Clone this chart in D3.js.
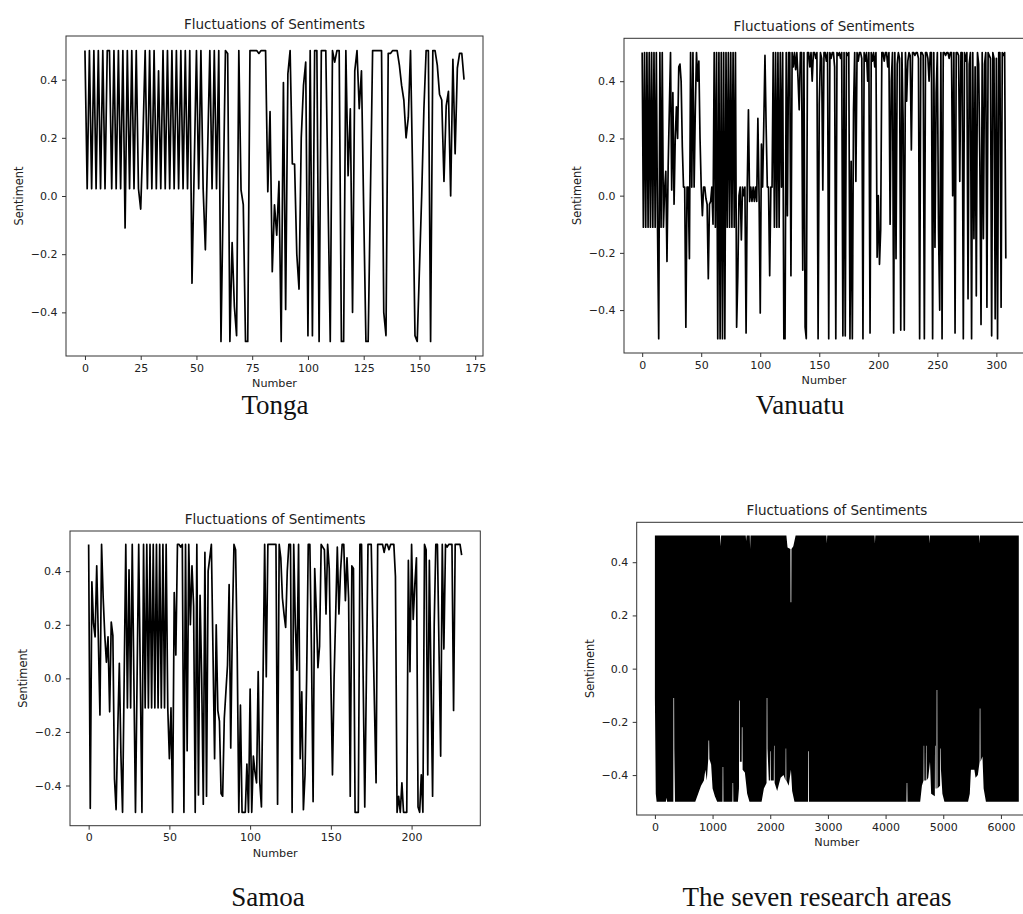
<!DOCTYPE html>
<html>
<head>
<meta charset="utf-8">
<script src="https://cdn.jsdelivr.net/npm/d3@7"></script>
<style>
  body { margin: 0; background: #fff; }
  svg { display: block; }
</style>
</head>
<body>
<svg id="chart" width="1023" height="914"></svg>
<script>
// values (index = Number)
const tongaValues = [
  0.5, 0.025, 0.5, 0.025, 0.5, 0.025, 0.5, 0.025, 0.5, 0.025,
  0.5, 0.5, 0.025, 0.5, 0.025, 0.5, 0.025, 0.5, -0.11, 0.5,
  0.025, 0.5, 0.025, 0.5, 0.025, -0.045, 0.2, 0.5, 0.025, 0.5,
  0.025, 0.5, 0.025, 0.43, 0.025, 0.5, 0.025, 0.5, 0.025, 0.5,
  0.025, 0.5, 0.025, 0.5, 0.025, 0.5, 0.025, 0.5, -0.3, 0.1,
  0.5, 0.025, 0.5, 0.025, -0.185, 0.15, 0.5, 0.025, 0.5, 0.025,
  0.5, -0.5, 0.0, 0.5, 0.49, -0.5, -0.16, -0.38, -0.48, 0.5,
  0.02, -0.03, -0.5, -0.5, 0.5, 0.5, 0.5, 0.5, 0.49, 0.5,
  0.5, 0.5, 0.015, 0.29, -0.26, -0.03, -0.135, 0.05, -0.5, 0.39,
  -0.39, 0.42, 0.5, 0.11, 0.11, -0.2, -0.32, 0.2, 0.38, 0.46,
  -0.48, 0.5, -0.48, 0.5, 0.5, -0.5, 0.5, 0.5, 0.5, 0.0,
  -0.5, 0.5, 0.46, 0.5, 0.5, -0.5, -0.5, 0.5, 0.07, 0.3,
  -0.4, 0.43, 0.5, 0.3, 0.43, -0.05, -0.5, -0.5, 0.0, 0.5,
  0.5, 0.5, 0.5, 0.5, -0.4, -0.48, 0.49, 0.49, 0.5, 0.5,
  0.5, 0.45, 0.38, 0.33, 0.2, 0.27, 0.5, 0.05, -0.48, -0.5,
  -0.25, 0.0, 0.3, 0.5, 0.5, -0.5, 0.5, 0.5, 0.45, 0.35,
  0.33, 0.05, 0.31, 0.36, 0.0, 0.47, 0.145, 0.44, 0.49, 0.49,
  0.40
];

const vanuatuValues = [
  0.5, -0.11, 0.5, -0.11, 0.5, -0.11, 0.5, -0.11, 0.5, -0.11,
  0.5, -0.11, 0.5, -0.11, -0.5, 0.5, -0.11, 0.5, -0.11, 0.02,
  0.085, -0.23, 0.1, 0.3, 0.5, 0.02, 0.36, -0.03, 0.2, 0.31,
  0.2, 0.45, 0.46, 0.4, 0.17, 0.03, 0.03, -0.46, 0.03, 0.03,
  -0.22, 0.5, 0.03, 0.5, 0.03, 0.3, 0.5, 0.4, 0.47, 0.2,
  0.03, -0.07, 0.03, 0.03, -0.01, -0.03, -0.29, -0.03, -0.02, 0.03,
  -0.1, 0.5, -0.11, 0.5, -0.5, 0.5, -0.5, 0.5, -0.5, 0.5,
  -0.5, 0.5, -0.11, 0.5, -0.11, 0.5, -0.11, 0.5, -0.11, 0.5,
  -0.46, -0.28, 0.0, 0.03, -0.155, 0.03, 0.0, 0.03, -0.48, 0.03,
  0.3, -0.02, 0.03, -0.02, 0.03, -0.02, 0.03, -0.02, 0.27, 0.0,
  -0.41, 0.18, 0.03, 0.25, 0.49, 0.24, 0.03, 0.03, -0.28, 0.03,
  0.03, 0.5, -0.11, 0.5, -0.11, 0.5, -0.11, 0.5, 0.03, 0.5,
  -0.5, -0.5, 0.5, -0.07, 0.5, 0.5, -0.28, 0.5, 0.45, 0.5,
  0.44, 0.5, 0.41, 0.3, 0.5, 0.5, -0.26, 0.5, -0.46, -0.5,
  0.5, 0.5, 0.45, 0.5, 0.4, 0.5, 0.5, 0.48, 0.5, -0.5,
  0.32, 0.5, 0.48, 0.02, 0.5, 0.5, 0.47, 0.5, -0.5, 0.5,
  0.48, 0.5, 0.5, 0.45, -0.5, 0.5, 0.49, 0.5, 0.48, 0.5,
  -0.49, 0.5, -0.49, 0.5, 0.49, 0.5, -0.5, 0.12, -0.5, 0.3,
  0.5, 0.05, 0.5, 0.47, 0.5, 0.5, 0.48, -0.5, 0.5, 0.47,
  0.5, 0.4, 0.5, -0.48, 0.5, 0.47, 0.5, 0.45, 0.5, -0.215,
  0.0, -0.24, -0.12, 0.5, 0.5, 0.47, 0.5, 0.5, 0.45, 0.5,
  -0.1, 0.4, 0.5, -0.48, 0.5, -0.22, 0.46, 0.5, 0.48, -0.47,
  0.5, 0.27, -0.47, 0.5, 0.33, 0.47, 0.5, 0.49, 0.16, 0.5,
  0.5, 0.49, 0.5, 0.5, 0.48, -0.5, 0.5, 0.5, 0.49, -0.5,
  0.5, 0.5, 0.48, 0.4, 0.5, 0.5, -0.5, 0.5, -0.18, 0.36,
  0.5, -0.12, -0.4, 0.5, -0.5, 0.5, 0.5, 0.49, 0.5, 0.5,
  0.48, 0.5, 0.5, 0.0, 0.5, -0.48, 0.5, 0.5, 0.49, 0.05,
  0.5, 0.5, -0.5, 0.5, 0.47, 0.5, -0.36, 0.46, 0.5, -0.5,
  0.5, -0.15, 0.45, -0.35, 0.5, 0.46, 0.12, -0.45, 0.5, -0.15,
  0.46, 0.5, -0.39, 0.5, 0.49, 0.48, -0.49, 0.5, 0.48, -0.43,
  0.48, -0.5, 0.5, 0.5, -0.39, 0.5, 0.49, 0.5, -0.22
];

const samoaValues = [
  0.5, -0.485, 0.36, 0.205, 0.155, 0.42, 0.15, -0.137, 0.5, 0.3,
  0.16, 0.06, 0.155, -0.125, 0.21, 0.16, -0.375, -0.49, -0.2, 0.056,
  -0.29, -0.5, 0.0, 0.5, -0.11, 0.405, -0.11, 0.5, 0.0, -0.5,
  0.0, 0.5, 0.0, -0.5, 0.5, -0.11, 0.5, -0.11, 0.5, -0.11,
  0.5, -0.11, 0.5, -0.11, 0.5, -0.11, 0.5, -0.11, 0.5, -0.11,
  -0.3, -0.11, -0.5, 0.32, 0.087, 0.5, 0.5, 0.49, 0.5, -0.5,
  0.5, -0.27, 0.5, 0.2, 0.42, 0.27, -0.5, 0.5, -0.435, 0.31,
  0.0, -0.47, 0.47, -0.44, 0.4, 0.45, 0.5, 0.1, -0.3, 0.2,
  -0.12, -0.16, -0.43, -0.44, -0.15, -0.05, 0.05, 0.35, -0.26, 0.2,
  0.5, 0.48, 0.1, -0.5, -0.1, -0.5, -0.5, -0.5, -0.32, -0.5,
  -0.04, -0.5, -0.29, -0.35, -0.39, 0.025, -0.39, -0.48, 0.0, 0.5,
  0.006, 0.5, 0.5, 0.5, 0.5, 0.5, 0.5, -0.47, 0.5, 0.45,
  0.3, 0.24, 0.19, 0.4, 0.5, 0.5, -0.5, 0.5, 0.2, 0.03,
  0.5, -0.3, -0.05, -0.49, -0.36, 0.0, 0.5, 0.5, 0.1, -0.46,
  0.41, 0.25, 0.04, 0.12, 0.5, 0.49, 0.48, 0.24, 0.5, 0.41,
  0.0, -0.36, 0.0, 0.24, 0.49, 0.24, 0.4, 0.5, 0.5, 0.29,
  0.45, 0.3, -0.44, 0.42, 0.41, -0.5, -0.5, -0.5, 0.5, 0.5,
  0.0, -0.48, 0.0, 0.5, 0.5, 0.5, 0.2, -0.1, -0.39, 0.5,
  0.5, 0.5, 0.5, 0.47, 0.5, 0.5, 0.48, 0.5, 0.5, 0.5,
  0.38, -0.5, -0.44, -0.5, -0.39, -0.5, -0.5, -0.5, 0.44, 0.025,
  0.5, 0.22, 0.35, 0.45, -0.48, -0.5, -0.36, -0.5, 0.5, 0.48,
  -0.36, 0.44, 0.0, -0.44, 0.2, 0.5, 0.5, 0.1, -0.29, 0.5,
  0.11, 0.5, 0.49, 0.5, 0.5, 0.5, -0.12, 0.5, 0.5, 0.5,
  0.5, 0.46
];

// all seven areas: ~6300 points, too dense to separate; read as the upper and
// lower edge of the black band, [Number, Sentiment]
const allUpperEdge = [
  [0, 0.5], [1130, 0.5], [1139, 0.46], [1148, 0.5], [1575, 0.5], [1582, 0.48], [1590, 0.5],
  [1645, 0.5], [1651, 0.45], [1658, 0.5], [2280, 0.5], [2300, 0.455], [2350, 0.45],
  [2353, 0.25], [2365, 0.25], [2368, 0.45], [2400, 0.46], [2440, 0.5], [2975, 0.5],
  [2981, 0.47], [2988, 0.5], [3808, 0.5], [3815, 0.47], [3822, 0.5], [4752, 0.5],
  [4759, 0.47], [4766, 0.5], [5620, 0.5], [5627, 0.47], [5634, 0.5], [6310, 0.5]
];
const allLowerEdge = [
  [0, -0.11], [15, -0.47], [30, -0.5], [190, -0.5], [201, -0.485], [212, -0.5],
  [320, -0.5], [322, -0.11], [333, -0.11], [336, -0.3], [348, -0.5], [700, -0.5],
  [750, -0.47], [800, -0.44], [850, -0.42], [875, -0.38], [900, -0.42], [925, -0.34],
  [930, -0.27], [940, -0.27], [945, -0.34], [975, -0.36], [1000, -0.45], [1040, -0.48],
  [1080, -0.5], [1172, -0.5], [1175, -0.37], [1185, -0.37], [1188, -0.5], [1344, -0.5],
  [1347, -0.43], [1357, -0.43], [1360, -0.5], [1440, -0.5], [1458, -0.45], [1461, -0.12],
  [1471, -0.12], [1474, -0.35], [1505, -0.35], [1508, -0.22], [1518, -0.22], [1521, -0.38],
  [1560, -0.39], [1600, -0.47], [1640, -0.5], [1850, -0.5], [1890, -0.45], [1936, -0.43],
  [1939, -0.11], [1949, -0.11], [1952, -0.3], [1975, -0.42], [1995, -0.42], [1998, -0.31],
  [2006, -0.31], [2009, -0.42], [2062, -0.42], [2065, -0.29], [2073, -0.29], [2076, -0.43],
  [2120, -0.46], [2180, -0.41], [2230, -0.4], [2265, -0.42], [2268, -0.3], [2276, -0.3],
  [2279, -0.42], [2320, -0.44], [2359, -0.38], [2380, -0.46], [2420, -0.5], [2656, -0.5],
  [2659, -0.31], [2669, -0.31], [2672, -0.5], [4362, -0.5], [4366, -0.43], [4376, -0.43],
  [4380, -0.5], [4600, -0.5], [4630, -0.44], [4658, -0.42], [4661, -0.29], [4669, -0.29],
  [4672, -0.42], [4698, -0.42], [4701, -0.29], [4709, -0.29], [4712, -0.42], [4740, -0.41],
  [4770, -0.35], [4790, -0.47], [4854, -0.48], [4857, -0.29], [4865, -0.29], [4868, -0.45],
  [4883, -0.45], [4886, -0.08], [4896, -0.08], [4899, -0.45], [4945, -0.44], [4948, -0.3],
  [4956, -0.3], [4960, -0.38], [4985, -0.47], [5020, -0.5], [5430, -0.5], [5460, -0.47],
  [5480, -0.38], [5540, -0.38], [5560, -0.41], [5600, -0.4], [5630, -0.35], [5633, -0.15],
  [5643, -0.15], [5646, -0.35], [5680, -0.33], [5700, -0.45], [5740, -0.5], [6310, -0.5]
];

const sentimentTicks = [-0.4, -0.2, 0.0, 0.2, 0.4];
const tongaTicks = [0, 25, 50, 75, 100, 125, 150, 175];
const vanuatuTicks = [0, 50, 100, 150, 200, 250, 300];
const samoaTicks = [0, 50, 100, 150, 200];
const allTicks = [0, 1000, 2000, 3000, 4000, 5000, 6000];

const svg = d3.select("#chart");
svg.append("rect").attr("width", 1023).attr("height", 914).attr("fill", "#fff");

const textColor = "#222";
const sans = "DejaVu Sans, sans-serif";

function drawPanel(p, idx) {
    let x = d3.scaleLinear().domain(p.xDomain).range([p.left, p.right]),
        y = d3.scaleLinear().domain([-0.55, 0.55]).range([p.bottom, p.top]);

    let clipId = "clip" + idx;
    svg.append("clipPath").attr("id", clipId)
        .append("rect")
        .attr("x", p.left).attr("y", p.top)
        .attr("width", p.right - p.left).attr("height", p.bottom - p.top);

    let g = svg.append("g");
    let plot = g.append("g").attr("clip-path", "url(#" + clipId + ")");

    if (p.values) {
        let line = d3.line()
            .x((d, i) => x(i))
            .y(d => y(d));
        plot.append("path")
            .datum(p.values)
            .attr("fill", "none")
            .attr("stroke", "#000")
            .attr("stroke-width", 1.7)
            .attr("stroke-linejoin", "round")
            .attr("d", line);
    } else {
        // band between upper and lower edges
        let outline = p.upper.concat(p.lower.slice().reverse());
        let line = d3.line()
            .x(d => x(d[0]))
            .y(d => y(d[1]));
        plot.append("path")
            .attr("d", line(outline) + "Z")
            .attr("fill", "#000");
    }

    let xAxis = g.append("g")
        .attr("transform", "translate(0," + p.bottom + ")")
        .call(d3.axisBottom(x).tickValues(p.xTicks).tickSize(4).tickPadding(4).tickFormat(d3.format("d")));
    let yAxis = g.append("g")
        .attr("transform", "translate(" + p.left + ",0)")
        .call(d3.axisLeft(y).tickValues(sentimentTicks).tickSize(4).tickPadding(4.5).tickFormat(d3.format(".1f")));
    for (let ax of [xAxis, yAxis]) {
        ax.select(".domain").remove();
        ax.selectAll("line").attr("stroke", "#333");
        ax.selectAll("text").attr("fill", textColor).attr("font-family", sans).attr("font-size", 11);
    }

    g.append("rect")
        .attr("x", p.left).attr("y", p.top)
        .attr("width", p.right - p.left).attr("height", p.bottom - p.top)
        .attr("fill", "none").attr("stroke", "#333").attr("stroke-width", 1);

    g.append("text")
        .attr("x", (p.left + p.right) / 2).attr("y", p.top - 7)
        .attr("text-anchor", "middle")
        .attr("font-family", sans).attr("font-size", 13.5).attr("fill", textColor)
        .text("Fluctuations of Sentiments");

    g.append("text")
        .attr("x", (p.left + p.right) / 2).attr("y", p.bottom + 31)
        .attr("text-anchor", "middle")
        .attr("font-family", sans).attr("font-size", 11.2).attr("fill", textColor)
        .text("Number");

    g.append("text")
        .attr("transform", "translate(" + (p.left - 43) + "," + ((p.top + p.bottom) / 2) + ") rotate(-90)")
        .attr("text-anchor", "middle")
        .attr("font-family", sans).attr("font-size", 11.4).attr("fill", textColor)
        .text("Sentiment");

    svg.append("text")
        .attr("x", p.captionX).attr("y", p.captionY)
        .attr("text-anchor", "middle")
        .attr("font-family", "Liberation Serif, serif").attr("font-size", 27).attr("fill", "#111")
        .text(p.caption);
}

const panels = [
    {values: tongaValues, left: 66, right: 483, top: 36, bottom: 356,
     xDomain: [-8.5, 178.5], xTicks: tongaTicks, caption: "Tonga", captionX: 275, captionY: 414},
    {values: vanuatuValues, left: 624, right: 1024, top: 38.3, bottom: 353,
     xDomain: [-15.4, 323.4], xTicks: vanuatuTicks, caption: "Vanuatu", captionX: 800, captionY: 414},
    {values: samoaValues, left: 70, right: 480.3, top: 531, bottom: 825.7,
     xDomain: [-11.55, 242.55], xTicks: samoaTicks, caption: "Samoa", captionX: 268, captionY: 906},
    {upper: allUpperEdge, lower: allLowerEdge, left: 636.7, right: 1037, top: 522.3, bottom: 815,
     xDomain: [-315.5, 6625.5], xTicks: allTicks, caption: "The seven research areas", captionX: 817, captionY: 906}
];

panels.forEach(drawPanel);
</script>
</body>
</html>
